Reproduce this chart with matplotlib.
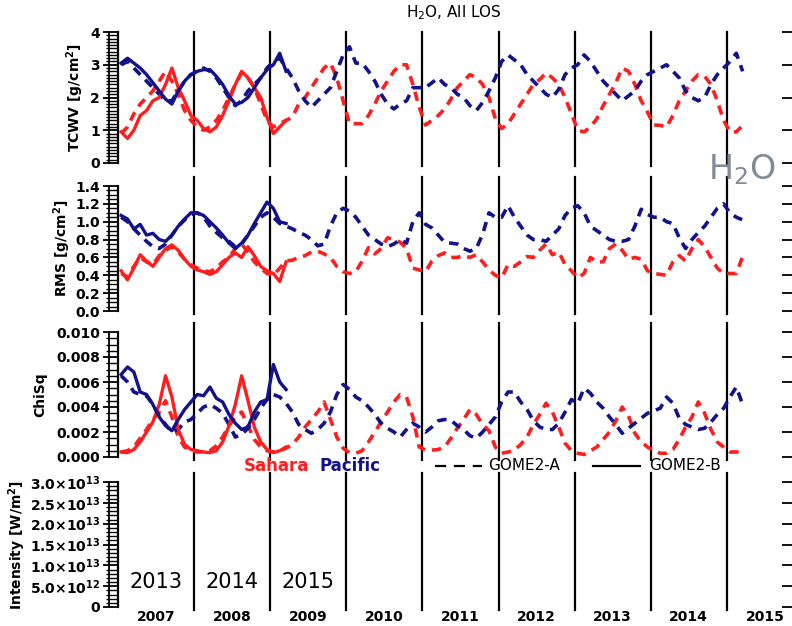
##################################
# GOME2 H2O retrievals, all LOS
##################################
import numpy as np
import matplotlib
matplotlib.use('Agg')
import matplotlib.pyplot as plt
from matplotlib.lines import Line2D

plt.rcParams['font.family'] = 'DejaVu Sans'
plt.rcParams['mathtext.default'] = 'regular'

# monthly means, GOME2-A from Jan 2007
tcwv_sahara_a = [0.9, 1.1, 1.5, 1.8, 2.0, 2.2, 2.5, 2.8, 2.5, 2.1, 1.6, 1.3,
                 1.1, 1.0, 1.1, 1.3, 1.6, 2.0, 2.4, 2.75, 2.6, 2.3, 1.8, 1.3,
                 1.1, 1.2, 1.3, 1.4, 1.8, 2.0, 2.3, 2.6, 2.9, 3.05, 2.6, 1.9,
                 1.2, 1.2, 1.2, 1.45, 1.8, 2.2, 2.5, 2.8, 3.0, 3.0, 2.4, 1.7,
                 1.16, 1.3, 1.45, 1.65, 1.95, 2.3, 2.5, 2.7, 2.6, 2.4, 2.0, 1.35,
                 1.05, 1.2, 1.5, 1.8, 2.1, 2.4, 2.55, 2.75, 2.6, 2.4, 2.0, 1.5,
                 1.0, 0.95, 1.1, 1.35, 1.75, 2.1, 2.45, 2.9, 2.8, 2.4, 1.9, 1.55,
                 1.16, 1.15, 1.1, 1.45, 1.9, 2.2, 2.5, 2.7, 2.65, 2.4, 1.9, 1.3,
                 0.95, 0.95, 1.15]
tcwv_pacific_a = [3.0, 3.1, 2.9, 2.7, 2.5, 2.3, 2.1, 1.9, 1.9, 2.2, 2.5, 2.7,
                  2.8, 2.9, 2.8, 2.6, 2.3, 2.0, 1.75, 1.9, 2.2, 2.4, 2.6, 2.9,
                  3.1, 3.2, 2.9, 2.6, 2.2, 1.9, 1.7, 1.9, 2.1, 2.3, 2.8, 3.3,
                  3.55, 3.05, 3.05, 2.8, 2.5, 2.1, 1.8, 1.65, 1.8, 1.9, 2.3, 2.3,
                  2.3, 2.45, 2.6, 2.4, 2.3, 2.1, 2.0, 1.75, 1.6, 1.85, 2.2, 2.6,
                  3.1, 3.3, 3.15, 3.0, 2.7, 2.5, 2.3, 2.1, 2.0, 2.25, 2.7, 2.9,
                  3.0, 3.3, 3.1, 2.8, 2.5, 2.3, 2.1, 1.9, 2.05, 2.2, 2.5, 2.7,
                  2.8, 2.9, 3.0, 2.8, 2.6, 2.2, 2.0, 1.9, 2.0, 2.4, 2.7, 2.9,
                  3.1, 3.35, 2.8]
rms_sahara_a = [0.42, 0.38, 0.5, 0.6, 0.55, 0.52, 0.62, 0.68, 0.72, 0.66, 0.58, 0.52,
                0.48, 0.45, 0.44, 0.48, 0.55, 0.6, 0.7, 0.75, 0.66, 0.55, 0.48, 0.42,
                0.4, 0.48, 0.56, 0.57, 0.6, 0.62, 0.66, 0.67, 0.64, 0.6, 0.5, 0.44,
                0.42, 0.44, 0.56, 0.71, 0.64, 0.7, 0.82, 0.8, 0.77, 0.7, 0.48, 0.46,
                0.44, 0.56, 0.62, 0.65, 0.6, 0.6, 0.62, 0.6, 0.63, 0.55, 0.46, 0.4,
                0.37, 0.52, 0.5, 0.55, 0.61, 0.6, 0.68, 0.75, 0.63, 0.66, 0.52, 0.45,
                0.37, 0.42, 0.6, 0.55, 0.55, 0.7, 0.75, 0.68, 0.58, 0.6, 0.58, 0.45,
                0.42, 0.41, 0.4, 0.55, 0.62, 0.56, 0.7, 0.8, 0.72, 0.6, 0.48, 0.42,
                0.42, 0.42, 0.61]
rms_pacific_a = [1.05, 1.0, 0.92, 0.85, 0.78, 0.72, 0.7, 0.75, 0.85, 0.95, 1.02, 1.08,
                 1.1, 1.05, 0.95, 0.88, 0.82, 0.78, 0.72, 0.75, 0.85, 0.95, 1.05, 1.1,
                 1.05, 0.98, 0.95, 0.92, 0.88, 0.85, 0.8, 0.73, 0.75, 0.95, 1.1, 1.15,
                 1.12, 1.05, 0.95, 0.85, 0.8, 0.75, 0.72, 0.75, 0.8, 0.76, 1.0, 1.1,
                 0.97, 0.93, 0.85, 0.77, 0.76, 0.75, 0.7, 0.67, 0.7, 0.86, 1.1, 1.05,
                 1.05, 1.18, 1.05, 0.95, 0.85, 0.8, 0.8, 0.78, 0.85, 0.92, 1.07, 1.15,
                 1.18, 1.1, 0.95, 0.9, 0.85, 0.8, 0.78, 0.78, 0.8, 0.95, 1.14, 1.08,
                 1.05, 1.05, 1.0, 0.98, 0.82, 0.7, 0.8, 0.88, 0.95, 1.05, 1.15, 1.2,
                 1.1, 1.05, 1.02]
chisq_sahara_a = [0.0004, 0.0005, 0.0008, 0.0015, 0.0022, 0.0030, 0.0036, 0.0045, 0.0032, 0.0016, 0.0008, 0.0005,
                  0.0004, 0.0004, 0.0005, 0.0009, 0.0016, 0.0025, 0.0032, 0.0036, 0.0025, 0.0014, 0.0008, 0.0005,
                  0.0004, 0.0005, 0.0007, 0.0010, 0.0016, 0.0024, 0.0030, 0.0036, 0.0044, 0.0030, 0.0016, 0.0007,
                  0.00035, 0.0003, 0.0005, 0.0012, 0.0020, 0.0028, 0.0036, 0.0044, 0.0050, 0.0048, 0.0032, 0.0008,
                  0.00056, 0.00055, 0.0006, 0.0008, 0.0015, 0.0023, 0.0030, 0.0038, 0.0034, 0.0026, 0.0021, 0.0008,
                  0.0003, 0.0004, 0.00055, 0.0010, 0.0016, 0.0026, 0.0034, 0.0043, 0.0036, 0.0024, 0.0011, 0.0005,
                  0.0003, 0.0002, 0.0005, 0.0008, 0.0014, 0.0020, 0.0029, 0.0040, 0.0033, 0.0019, 0.0012, 0.0008,
                  0.0005, 0.0003, 0.0003, 0.0006, 0.0014, 0.0024, 0.0032, 0.0044, 0.0035, 0.0022, 0.0012, 0.0008,
                  0.0004, 0.0004, 0.0004]
chisq_pacific_a = [0.0065, 0.0060, 0.0052, 0.0050, 0.0049, 0.0042, 0.0033, 0.0026, 0.0020, 0.0022, 0.0028, 0.0030,
                   0.0035, 0.0040, 0.0042, 0.0039, 0.0035, 0.0026, 0.0016, 0.0018, 0.0023, 0.0030, 0.0039, 0.0046,
                   0.0050, 0.0048, 0.0043, 0.0036, 0.0026, 0.0022, 0.0019, 0.0022, 0.0027, 0.0036, 0.0050, 0.0058,
                   0.0054, 0.0048, 0.0045, 0.0040, 0.0034, 0.0027, 0.0023, 0.0020, 0.0016, 0.0022, 0.0027, 0.0024,
                   0.0020, 0.0024, 0.0029, 0.0030, 0.00295, 0.0025, 0.0022, 0.0017, 0.0015, 0.0020, 0.0026, 0.0032,
                   0.0044, 0.0052, 0.0052, 0.0044, 0.0038, 0.0029, 0.0024, 0.0022, 0.0022, 0.0027, 0.0036, 0.0046,
                   0.0043, 0.0055, 0.0051, 0.0044, 0.0039, 0.0032, 0.0026, 0.0019, 0.0023, 0.0027, 0.0031, 0.0035,
                   0.0037, 0.0039, 0.0048, 0.0043, 0.0031, 0.0026, 0.0024, 0.0022, 0.0023, 0.0028, 0.0034, 0.0039,
                   0.0048, 0.0056, 0.0042]

# monthly means, GOME2-B from Jan 2013
tcwv_sahara_b = [0.95, 0.75, 1.0, 1.45, 1.6, 1.9, 2.0, 2.4, 2.9, 2.3, 1.9, 1.45,
                 1.3, 1.05, 0.95, 1.1, 1.45, 1.9, 2.4, 2.8, 2.6, 2.3, 2.0, 1.4,
                 0.9, 1.1, 1.3]
tcwv_pacific_b = [3.05, 3.2, 3.05, 2.9, 2.7, 2.45, 2.2, 1.95, 1.8, 2.2, 2.5, 2.7,
                  2.8, 2.85, 2.85, 2.65, 2.4, 2.05, 1.8, 1.85, 2.0, 2.3, 2.6, 2.85,
                  3.0, 3.35, 2.8]
rms_sahara_b = [0.45, 0.35, 0.48, 0.63, 0.56, 0.5, 0.6, 0.7, 0.74, 0.68, 0.58, 0.5,
                0.46, 0.44, 0.41, 0.44, 0.52, 0.6, 0.65, 0.6, 0.72, 0.62, 0.5, 0.45,
                0.42, 0.33, 0.55]
rms_pacific_b = [1.07, 1.03, 0.92, 0.97, 0.85, 0.87, 0.8, 0.78, 0.85, 0.95, 1.03, 1.1,
                 1.1, 1.07, 1.0, 0.93, 0.85, 0.76, 0.7, 0.76, 0.85, 0.98, 1.1, 1.22,
                 1.15, 1.0, 0.98]
chisq_sahara_b = [0.0004, 0.00035, 0.0006, 0.0012, 0.0020, 0.0028, 0.0042, 0.0065, 0.0048, 0.0022, 0.0010, 0.0006,
                  0.0005, 0.0004, 0.00035, 0.0005, 0.0012, 0.0025, 0.0042, 0.0065, 0.0045, 0.0024, 0.0012, 0.0006,
                  0.00035, 0.0005, 0.0008]
chisq_pacific_b = [0.0066, 0.0072, 0.0068, 0.0052, 0.0050, 0.0042, 0.0032, 0.0025, 0.0021, 0.0030, 0.0038, 0.0044,
                   0.0050, 0.0049, 0.0056, 0.0047, 0.0044, 0.0034, 0.0027, 0.0022, 0.0024, 0.0036, 0.0044, 0.0046,
                   0.0074, 0.0060, 0.0054]

years_a = ['2007', '2008', '2009', '2010', '2011', '2012', '2013', '2014', '2015']
years_b = ['2013', '2014', '2015']

red = '#ff1e1e'
navy = '#12128c'

t_a = (np.arange(len(tcwv_sahara_a)) + 0.5) / 12.0
t_b = (np.arange(len(tcwv_sahara_b)) + 0.5) / 12.0

W, H = 792, 626
fig = plt.figure(figsize=(W / 100, H / 100), dpi=100)
x0, x1 = 118, 792
xmax = (x1 - x0) / 76.1

# (top, bottom) of each panel in pixels
boxes = [(32, 163), (186, 311), (332, 457), (482, 607)]
axes = []
for top, bot in boxes:
    ax = fig.add_axes([x0 / W, 1 - bot / H, (x1 - x0) / W, (bot - top) / H])
    axes.append(ax)

panels = [
    (tcwv_sahara_a, tcwv_pacific_a, tcwv_sahara_b, tcwv_pacific_b,
     (0, 4), 1.0, 0.1, 'TCWV [g/cm$^2$]', 75, ['0', '1', '2', '3', '4']),
    (rms_sahara_a, rms_pacific_a, rms_sahara_b, rms_pacific_b,
     (0, 1.4), 0.2, 0.05, 'RMS [g/cm$^2$]', 62,
     ['0.0', '0.2', '0.4', '0.6', '0.8', '1.0', '1.2', '1.4']),
    (chisq_sahara_a, chisq_pacific_a, chisq_sahara_b, chisq_pacific_b,
     (0, 0.010), 0.002, 0.0005, 'ChiSq', 40,
     ['0.000', '0.002', '0.004', '0.006', '0.008', '0.010']),
]

dash = (2.6, 1.9)
for i, (sa, pa, sb, pb, ylim, major, minor, ylab, labx, ticklabs) in enumerate(panels):
    ax = axes[i]
    ax.plot(t_a, sa, color=red, lw=2.6, dashes=dash, zorder=3)
    ax.plot(t_a, pa, color=navy, lw=2.6, dashes=dash, zorder=3)
    ax.plot(t_b, sb, color=red, lw=2.4, zorder=4)
    ax.plot(t_b, pb, color=navy, lw=2.4, zorder=4)
    ax.set_ylim(*ylim)
    ax.set_yticks(np.arange(ylim[0], ylim[1] + major / 2, major))
    ax.set_yticklabels(ticklabs)
    ax.set_yticks(np.arange(ylim[0], ylim[1] + minor / 2, minor), minor=True)
    top, bot = boxes[i]
    fig.text(labx / W, 1 - (top + bot) / 2 / H, ylab, rotation=90, ha='center',
             va='center', fontsize=10, fontweight='bold')

# empty intensity panel with the GOME2-B years
ax4 = axes[3]
ax4.set_ylim(0, 3.0e13)
ax4.set_yticks(np.arange(0, 3.0e13 + 1, 5.0e12))
ax4.set_yticklabels(['0', '5.0$\\times$10$^{12}$', '1.0$\\times$10$^{13}$',
                     '1.5$\\times$10$^{13}$', '2.0$\\times$10$^{13}$',
                     '2.5$\\times$10$^{13}$', '3.0$\\times$10$^{13}$'])
ax4.set_yticks(np.arange(0, 3.0e13 + 1, 1.0e12), minor=True)
fig.text(17 / W, 1 - 545 / H, 'Intensity [W/m$^2$]', rotation=90, ha='center',
         va='center', fontsize=10, fontweight='bold')
for k, yr in enumerate(years_b):
    ax4.text(k + 0.5, 0.2, yr, transform=ax4.get_xaxis_transform(),
             ha='center', va='center', fontsize=15)
ax4.set_xticks(np.arange(len(years_a)) + 0.5)
ax4.set_xticklabels(years_a, fontsize=10, fontweight='bold')
ax4.tick_params(axis='x', length=0, pad=2)

for i, ax in enumerate(axes):
    ax.set_xlim(0, xmax)
    for s in ['top', 'bottom', 'right']:
        ax.spines[s].set_visible(False)
    ax.spines['left'].set_linewidth(1.6)
    if i < 3:
        ax.set_xticks([])
    top_ext = 1.0 if i == 0 else 1.07
    for yr in range(1, len(years_a)):
        ax.axvline(yr, ymin=-0.02, ymax=top_ext, color='black', lw=1.6,
                   clip_on=False, zorder=2)
    ax.tick_params(axis='y', which='major', direction='out', length=11, width=1.3,
                   labelsize=10, pad=2, right=True)
    ax.tick_params(axis='y', which='minor', direction='out', length=9, width=1.0)
    for lab in ax.get_yticklabels():
        lab.set_fontweight('bold')
    # right-hand tick stubs
    ax.tick_params(axis='y', which='major', right=True, labelright=False)
    for tl in ax.yaxis.get_major_ticks():
        tl.tick2line.set_markersize(7)
        tl.tick2line.set_marker(0)
    # outer edge of the tick ladder
    ax.add_line(Line2D([-9.0 / (x1 - x0)] * 2, [0, 1], transform=ax.transAxes,
                       color='black', lw=1.3, clip_on=False))

# legend row
fig.text(276 / W, 1 - 466 / H, 'Sahara', color=red, fontsize=12,
         fontweight='bold', ha='center', va='center')
fig.text(350 / W, 1 - 466 / H, 'Pacific', color=navy, fontsize=12,
         fontweight='bold', ha='center', va='center')
fig.add_artist(Line2D([435 / W, 482 / W], [1 - 466 / H] * 2, color='black',
                      lw=1.6, dashes=(5, 3.5)))
fig.text(488 / W, 1 - 466 / H, 'GOME2-A', fontsize=11, ha='left', va='center')
fig.add_artist(Line2D([593 / W, 640 / W], [1 - 466 / H] * 2, color='black', lw=1.6))
fig.text(649 / W, 1 - 466 / H, 'GOME2-B', fontsize=11, ha='left', va='center')

fig.text(454 / W, 1 - 13 / H, 'H$_2$O, All LOS', fontsize=11, ha='center', va='center')
fig.text(742 / W, 1 - 170 / H, 'H$_2$O', fontsize=24, color='#7e8b99',
         ha='center', va='center')

fig.savefig('out.png', dpi=100, facecolor='white')
